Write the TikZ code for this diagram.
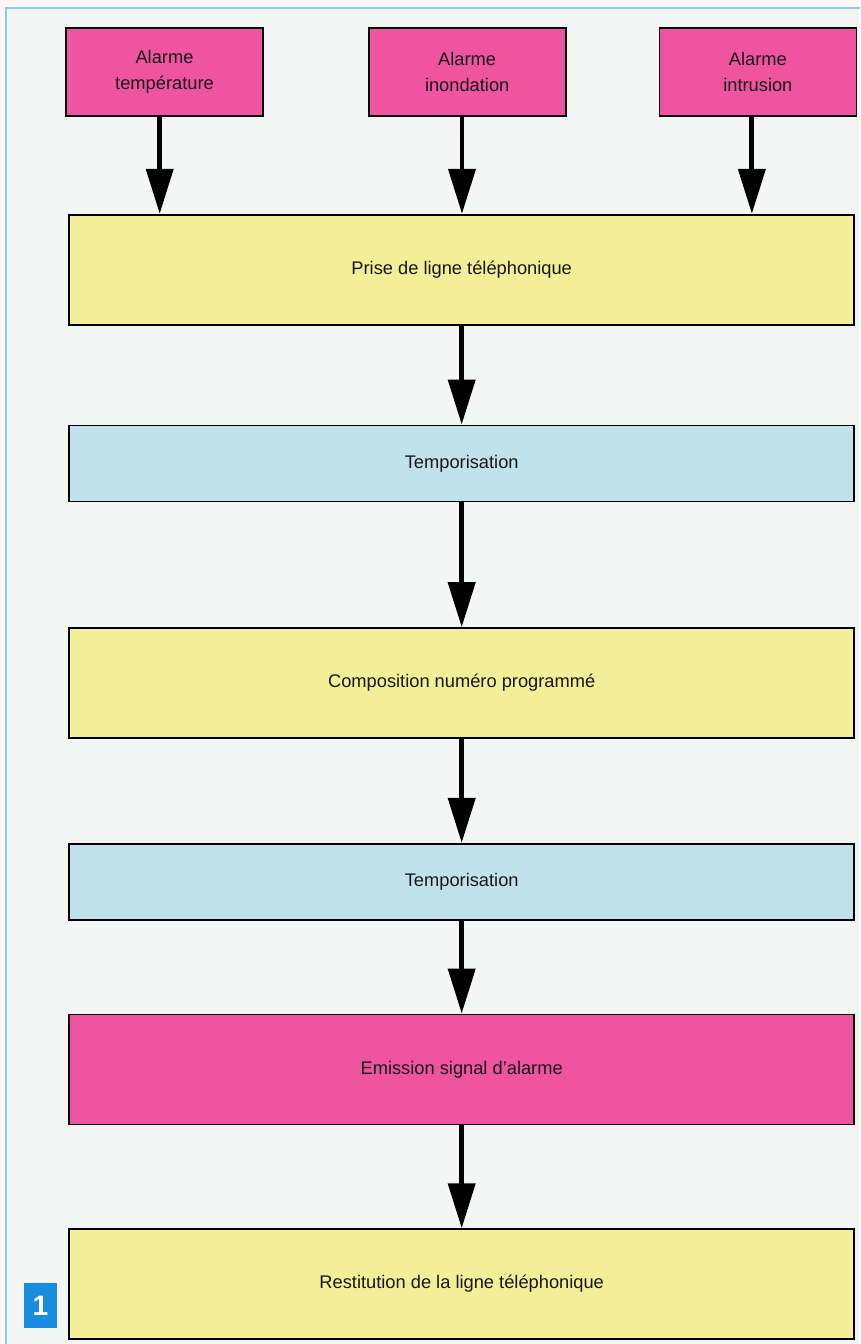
\documentclass[tikz,border=0pt]{standalone}
\usepackage{fontspec}
\setmainfont{Liberation Sans}
\usepackage{tikz}
\usetikzlibrary{arrows.meta, positioning}
\definecolor{alarmpink}{RGB}{238,84,160}
\definecolor{stepyellow}{RGB}{243,238,152}
\definecolor{stepblue}{RGB}{192,226,234}
\definecolor{pagegrey}{RGB}{244,246,246}
\definecolor{edgecyan}{RGB}{140,205,222}
\definecolor{tagblue}{RGB}{26,140,224}
\tikzset{
  alarmbox/.style={rectangle, draw=black, line width=1.2pt, fill=alarmpink,
    text width=4.4cm, align=center, minimum width=4.925cm, minimum height=2.2cm,
    text=black!90, font=\fontsize{13}{18.5}\selectfont},
  widebox/.style={rectangle, draw=black, line width=1.2pt, minimum width=19.625cm,
    text=black!90, font=\fontsize{13}{16}\selectfont},
  yellowbox/.style={widebox, fill=stepyellow, minimum height=2.75cm},
  bluebox/.style={widebox, fill=stepblue, minimum height=1.9cm},
  pinkbox/.style={widebox, fill=alarmpink, minimum height=2.75cm},
  arrow/.style={-{Triangle[length=32pt,width=19pt]}, line width=3.5pt}
}
\begin{document}
\begin{tikzpicture}
    \useasboundingbox (0,0) rectangle (21.5,-33.6);
    \fill[white!97!red] (0,0) rectangle (21.5,-33.6);
    \fill[pagegrey] (0.15,-0.2) rectangle (21.5,-33.6);
    \draw[edgecyan, line width=1pt] (0.15,-33.6) -- (0.15,-0.2) -- (21.5,-0.2);
    \node[alarmbox] (tempalarm) at (4.1125,-1.8) {Alarme\\température};
    \node[alarmbox, right=2.6cm of tempalarm] (floodalarm) {Alarme\\inondation};
    \node[alarmbox, right=2.3cm of floodalarm] (intrusalarm) {Alarme\\intrusion};
    \node[yellowbox, below=2.425cm of floodalarm, xshift=-0.1375cm] (seizeline)
      {Prise de ligne téléphonique};
    \node[bluebox, below=2.475cm of seizeline] (delay1) {Temporisation};
    \node[yellowbox, below=3.125cm of delay1] (dialnum)
      {Composition numéro programmé};
    \node[bluebox, below=2.6cm of dialnum] (delay2) {Temporisation};
    \node[pinkbox, below=2.325cm of delay2] (sendsignal)
      {Emission signal d'alarme};
    \node[yellowbox, below=2.575cm of sendsignal] (releaseline)
      {Restitution de la ligne téléphonique};
    \node[fill=tagblue, text=white, inner sep=0pt, minimum width=0.825cm,
      minimum height=1.125cm, font=\bfseries\fontsize{20}{20}\selectfont]
      (figtag) at (1.0125,-32.6375) {1};
    \draw[arrow] ([xshift=-0.12cm]tempalarm.south)
      -- ([xshift=-0.12cm]tempalarm.south |- seizeline.north);
    \draw[arrow] ([xshift=-0.13cm]floodalarm.south)
      -- ([xshift=-0.13cm]floodalarm.south |- seizeline.north);
    \draw[arrow] ([xshift=-0.15cm]intrusalarm.south)
      -- ([xshift=-0.15cm]intrusalarm.south |- seizeline.north);
    \draw[arrow] (seizeline) -- (delay1);
    \draw[arrow] (delay1) -- (dialnum);
    \draw[arrow] (dialnum) -- (delay2);
    \draw[arrow] (delay2) -- (sendsignal);
    \draw[arrow] (sendsignal) -- (releaseline);
\end{tikzpicture}
\end{document}
